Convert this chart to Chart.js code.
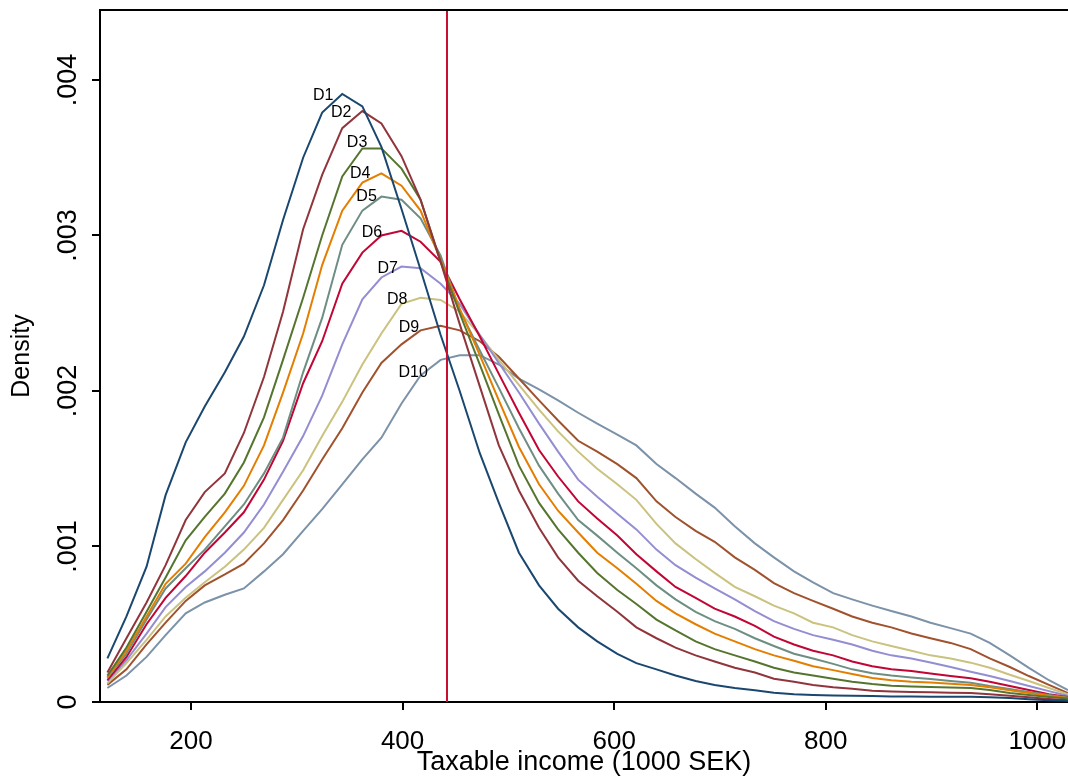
<!DOCTYPE html>
<html>
<head>
<meta charset="utf-8">
<title>Taxable income density by decile</title>
<script src="https://cdn.jsdelivr.net/npm/chart.js@4.4.1/dist/chart.umd.min.js"></script>
<style>
  html, body { margin: 0; padding: 0; background: #fff; }
  canvas { display: block; }
</style>
</head>
<body>
<canvas id="chart" width="1068" height="776"></canvas>
<script>
// evaluation grid, taxable income in 1000 SEK
const income = [121, 139, 158, 176, 195, 213, 232, 250, 269, 287,
  306, 324, 343, 362, 380, 399, 417, 436, 454, 473,
  491, 510, 529, 547, 566, 584, 603, 621, 640, 658,
  677, 695, 714, 733, 751, 770, 788, 807, 825, 844,
  862, 881, 899, 918, 937, 955, 974, 992, 1011, 1029];

// kernel densities per decile, in units of 0.001
const d1 = [0.28, 0.55, 0.87, 1.33, 1.67, 1.90, 2.12, 2.35, 2.68, 3.10,
  3.50, 3.79, 3.91, 3.83, 3.57, 3.17, 2.78, 2.36, 2.00, 1.60,
  1.28, 0.96, 0.75, 0.60, 0.48, 0.39, 0.31, 0.25, 0.21, 0.17,
  0.135, 0.11, 0.09, 0.075, 0.06, 0.05, 0.045, 0.042, 0.04, 0.038,
  0.036, 0.035, 0.034, 0.034, 0.033, 0.03, 0.025, 0.018, 0.012, 0.008];
const d2 = [0.19, 0.41, 0.64, 0.88, 1.17, 1.35, 1.47, 1.73, 2.09, 2.51,
  3.04, 3.39, 3.69, 3.80, 3.72, 3.51, 3.23, 2.83, 2.43, 2.03,
  1.65, 1.36, 1.12, 0.93, 0.78, 0.68, 0.58, 0.48, 0.41, 0.35,
  0.30, 0.26, 0.22, 0.19, 0.15, 0.13, 0.11, 0.095, 0.085, 0.072,
  0.068, 0.065, 0.062, 0.060, 0.058, 0.05, 0.04, 0.03, 0.02, 0.012];
const d3 = [0.17, 0.35, 0.58, 0.80, 1.04, 1.19, 1.34, 1.54, 1.83, 2.20,
  2.60, 3.00, 3.38, 3.56, 3.56, 3.43, 3.23, 2.83, 2.50, 2.17,
  1.85, 1.52, 1.28, 1.11, 0.96, 0.83, 0.72, 0.63, 0.53, 0.46,
  0.39, 0.34, 0.30, 0.26, 0.22, 0.19, 0.17, 0.15, 0.13, 0.115,
  0.105, 0.10, 0.097, 0.094, 0.09, 0.077, 0.058, 0.045, 0.032, 0.022];
const d4 = [0.16, 0.33, 0.55, 0.76, 0.89, 1.06, 1.22, 1.39, 1.65, 1.99,
  2.37, 2.81, 3.16, 3.34, 3.40, 3.32, 3.16, 2.84, 2.53, 2.23,
  1.94, 1.64, 1.40, 1.23, 1.09, 0.96, 0.86, 0.76, 0.65, 0.57,
  0.50, 0.44, 0.39, 0.34, 0.30, 0.265, 0.23, 0.205, 0.18, 0.155,
  0.14, 0.13, 0.125, 0.117, 0.109, 0.095, 0.075, 0.058, 0.04, 0.025];
const d5 = [0.155, 0.31, 0.53, 0.73, 0.86, 0.98, 1.13, 1.27, 1.47, 1.70,
  2.12, 2.47, 2.94, 3.16, 3.25, 3.23, 3.11, 2.87, 2.52, 2.26,
  2.02, 1.76, 1.52, 1.34, 1.17, 1.07, 0.96, 0.86, 0.75, 0.66,
  0.58, 0.52, 0.47, 0.41, 0.36, 0.31, 0.28, 0.245, 0.21, 0.185,
  0.17, 0.158, 0.148, 0.135, 0.124, 0.103, 0.084, 0.064, 0.045, 0.029];
const d6 = [0.14, 0.29, 0.50, 0.67, 0.81, 0.96, 1.09, 1.22, 1.43, 1.68,
  2.05, 2.32, 2.69, 2.89, 3.00, 3.03, 2.96, 2.83, 2.59, 2.35,
  2.11, 1.86, 1.62, 1.45, 1.29, 1.18, 1.07, 0.95, 0.84, 0.74,
  0.67, 0.60, 0.55, 0.49, 0.42, 0.37, 0.33, 0.30, 0.26, 0.23,
  0.21, 0.20, 0.183, 0.167, 0.152, 0.13, 0.103, 0.077, 0.05, 0.032];
const d7 = [0.135, 0.27, 0.44, 0.61, 0.74, 0.84, 0.96, 1.09, 1.27, 1.48,
  1.71, 1.97, 2.30, 2.59, 2.73, 2.80, 2.79, 2.69, 2.56, 2.36,
  2.18, 1.99, 1.79, 1.61, 1.43, 1.32, 1.21, 1.11, 0.98, 0.88,
  0.80, 0.73, 0.66, 0.585, 0.52, 0.47, 0.43, 0.40, 0.37, 0.33,
  0.30, 0.28, 0.254, 0.225, 0.195, 0.167, 0.135, 0.103, 0.07, 0.04];
const d8 = [0.12, 0.25, 0.40, 0.55, 0.67, 0.77, 0.87, 0.98, 1.12, 1.30,
  1.49, 1.71, 1.93, 2.17, 2.37, 2.56, 2.60, 2.585, 2.51, 2.36,
  2.20, 2.04, 1.88, 1.74, 1.61, 1.50, 1.40, 1.30, 1.145, 1.02,
  0.92, 0.83, 0.74, 0.68, 0.62, 0.57, 0.51, 0.48, 0.43, 0.39,
  0.36, 0.33, 0.30, 0.28, 0.253, 0.22, 0.175, 0.135, 0.09, 0.05];
const d9 = [0.11, 0.21, 0.37, 0.51, 0.65, 0.75, 0.82, 0.89, 1.02, 1.17,
  1.36, 1.56, 1.76, 1.99, 2.18, 2.30, 2.39, 2.42, 2.39, 2.32,
  2.22, 2.08, 1.94, 1.81, 1.68, 1.61, 1.53, 1.44, 1.29, 1.19,
  1.10, 1.03, 0.93, 0.85, 0.765, 0.70, 0.65, 0.60, 0.55, 0.51,
  0.48, 0.44, 0.41, 0.38, 0.34, 0.28, 0.225, 0.167, 0.11, 0.058];
const d10 = [0.09, 0.17, 0.29, 0.43, 0.57, 0.64, 0.69, 0.73, 0.84, 0.95,
  1.10, 1.24, 1.40, 1.56, 1.70, 1.92, 2.10, 2.20, 2.23, 2.23,
  2.17, 2.08, 2.01, 1.94, 1.86, 1.79, 1.72, 1.65, 1.53, 1.44,
  1.34, 1.25, 1.13, 1.02, 0.93, 0.84, 0.77, 0.70, 0.66, 0.62,
  0.585, 0.55, 0.51, 0.475, 0.44, 0.38, 0.30, 0.22, 0.14, 0.077];

const deciles = ['D1', 'D2', 'D3', 'D4', 'D5', 'D6', 'D7', 'D8', 'D9', 'D10'];
const series = [d1, d2, d3, d4, d5, d6, d7, d8, d9, d10];
const colors = ['#1a476f', '#90353b', '#55752f', '#e37e00', '#6e8e84',
  '#c10534', '#938dd2', '#cac27e', '#a0522d', '#7b92a8'];

// where the decile names sit (income, density x 0.001)
const labelIncome = [325, 342, 357, 360, 366, 371, 386, 395, 406, 410];
const labelDensity = [3.90, 3.79, 3.60, 3.40, 3.25, 3.02, 2.79, 2.59, 2.41, 2.12];

const cutoff = 442; // vertical reference line

const xTicks = [200, 400, 600, 800, 1000];
const xTickLabels = ['200', '400', '600', '800', '1000'];
const yTicks = [0, 0.001, 0.002, 0.003, 0.004];
const yTickLabels = ['0', '.001', '.002', '.003', '.004'];

const FONT = '"Liberation Sans", Arial, Helvetica, sans-serif';
Chart.defaults.font.family = FONT;
Chart.defaults.color = '#000';

const datasets = series.map((s, i) => ({
  label: deciles[i],
  data: s.map((v, j) => ({ x: income[j], y: v / 1000 })),
  borderColor: colors[i],
  borderWidth: 2,
  pointRadius: 0,
  tension: 0,
  fill: false
}));

const overlay = {
  id: 'overlay',
  afterDatasetsDraw(chart) {
    const { ctx, chartArea, scales: { x, y } } = chart;
    ctx.save();
    // reference line
    const xp = x.getPixelForValue(cutoff);
    ctx.strokeStyle = '#c8102e';
    ctx.lineWidth = 2;
    ctx.beginPath();
    ctx.moveTo(xp, chartArea.top);
    ctx.lineTo(xp, chartArea.bottom);
    ctx.stroke();
    // decile names
    ctx.fillStyle = '#000';
    ctx.font = '16px ' + FONT;
    ctx.textAlign = 'center';
    ctx.textBaseline = 'middle';
    deciles.forEach((d, i) => {
      ctx.fillText(d, x.getPixelForValue(labelIncome[i]), y.getPixelForValue(labelDensity[i] / 1000));
    });
    ctx.restore();
  },
  afterDraw(chart) {
    const { ctx, chartArea, scales: { y } } = chart;
    ctx.save();
    // top frame line
    ctx.strokeStyle = '#000';
    ctx.lineWidth = 2;
    ctx.beginPath();
    ctx.moveTo(chartArea.left - 1, chartArea.top);
    ctx.lineTo(chartArea.right, chartArea.top);
    ctx.stroke();
    // vertical y tick labels
    ctx.fillStyle = '#000';
    ctx.font = '27px ' + FONT;
    ctx.textAlign = 'center';
    ctx.textBaseline = 'middle';
    yTicks.forEach((v, i) => {
      ctx.save();
      ctx.translate(69, y.getPixelForValue(v));
      ctx.rotate(-Math.PI / 2);
      ctx.fillText(yTickLabels[i], 0, 0);
      ctx.restore();
    });
    ctx.restore();
  }
};

new Chart(document.getElementById('chart'), {
  type: 'line',
  data: { datasets },
  options: {
    responsive: false,
    animation: false,
    layout: { padding: { top: 10, right: 0, left: 0, bottom: 0 } },
    plugins: { legend: { display: false }, tooltip: { enabled: false } },
    scales: {
      x: {
        type: 'linear',
        min: 114,
        max: 1029,
        afterBuildTicks: s => { s.ticks = xTicks.map(v => ({ value: v })); },
        afterFit: s => { s.height = 74; s.paddingLeft = 0; s.paddingRight = 0; },
        ticks: {
          font: { size: 26 },
          padding: 16,
          maxRotation: 0,
          callback: v => xTickLabels[xTicks.indexOf(v)]
        },
        grid: { drawOnChartArea: false, drawTicks: true, tickLength: 8, color: '#000', lineWidth: 2 },
        border: { color: '#000', width: 2 },
        title: { display: true, text: 'Taxable income (1000 SEK)', font: { size: 27 }, padding: { top: 0, bottom: -3 } }
      },
      y: {
        type: 'linear',
        min: 0,
        max: 0.00445,
        afterBuildTicks: s => { s.ticks = yTicks.map(v => ({ value: v })); },
        afterFit: s => { s.width = 100; s.paddingTop = 0; s.paddingBottom = 0; },
        ticks: { display: false },
        grid: { drawOnChartArea: false, drawTicks: true, tickLength: 8, color: '#000', lineWidth: 2 },
        border: { color: '#000', width: 2 },
        title: { display: true, text: 'Density', font: { size: 25 }, padding: { top: 7, bottom: 0 } }
      }
    }
  },
  plugins: [overlay]
});
</script>
</body>
</html>
